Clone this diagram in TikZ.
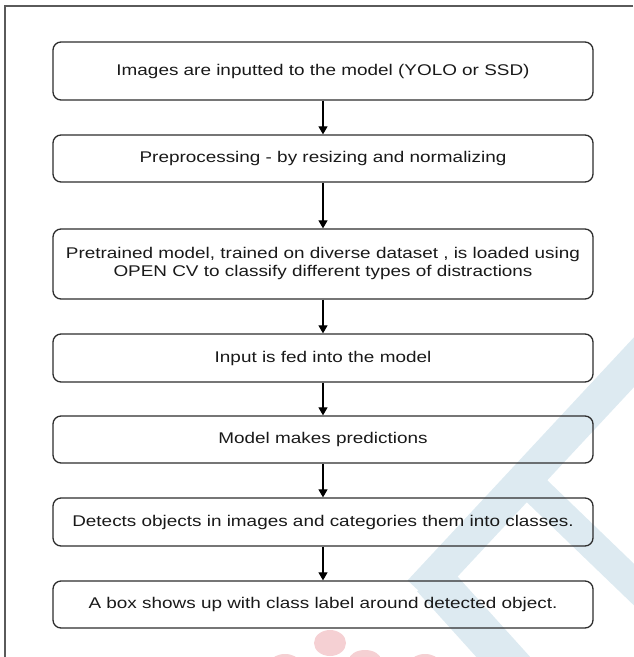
\documentclass[tikz,border=0pt]{standalone}
\usepackage{fontspec}
\setmainfont{Liberation Sans}
\usetikzlibrary{arrows.meta}
\definecolor{wmblue}{RGB}{221,234,241}
\definecolor{wmpink}{RGB}{245,208,211}
\definecolor{boxline}{RGB}{45,45,45}
\definecolor{txt}{RGB}{25,25,25}
\definecolor{frame}{RGB}{90,90,90}
\newcommand{\wt}[1]{\scalebox{1.22}[1]{#1}}
\tikzset{
  flowbox/.style={draw=boxline, line width=1.3pt, rounded corners=8pt,
    minimum width=540pt, inner sep=0pt, text=txt, align=center,
    font=\fontsize{15.5}{18}\selectfont},
  flowarrow/.style={draw=black, line width=1.2pt, -{Triangle[width=9pt,length=8pt]}},
  wmband/.style={draw=wmblue, line cap=butt}
}
\begin{document}
\begin{tikzpicture}[x=1pt,y=-1pt]
\useasboundingbox (0,0) rectangle (633,657);
% watermark
\draw[wmband, line width=34pt] (650,345) -- (420,592);
\draw[wmband, line width=30pt] (515,470) -- (650,600);
\draw[wmband, line width=40pt] (432,578) -- (515,670);
\fill[wmpink] (330,643) ellipse (16 and 13);
\fill[wmpink] (365,660) ellipse (16 and 10);
\fill[wmpink] (285,662) ellipse (14 and 8);
\fill[wmpink] (425,662) ellipse (14 and 8);
% frame
\draw[frame, line width=1.2pt] (633,6) -- (5,6) -- (5,657);
% boxes
\node[flowbox, minimum height=58pt] (b1) at (323,71) {\wt{Images are inputted to the model (YOLO or SSD)}};
\node[flowbox, minimum height=47pt] (b2) at (323,158.5) {\wt{Preprocessing - by resizing and normalizing}};
\node[flowbox, minimum height=70pt] (b3) at (323,264) {\wt{\begin{tabular}{@{}c@{}}Pretrained model, trained on diverse dataset , is loaded using\\OPEN CV to classify different types of distractions\end{tabular}}};
\node[flowbox, minimum height=48pt] (b4) at (323,358) {\wt{Input is fed into the model}};
\node[flowbox, minimum height=47pt] (b5) at (323,439.5) {\wt{Model makes predictions}};
\node[flowbox, minimum height=48pt] (b6) at (323,522) {\wt{Detects objects in images and categories them into classes.}};
\node[flowbox, minimum height=47pt] (b7) at (323,604.5) {\wt{A box shows up with class label around detected object.}};
% arrows
\draw[flowarrow] (b1) -- (b2);
\draw[flowarrow] (b2) -- (b3);
\draw[flowarrow] (b3) -- (b4);
\draw[flowarrow] (b4) -- (b5);
\draw[flowarrow] (b5) -- (b6);
\draw[flowarrow] (b6) -- (b7);
\end{tikzpicture}
\end{document}
